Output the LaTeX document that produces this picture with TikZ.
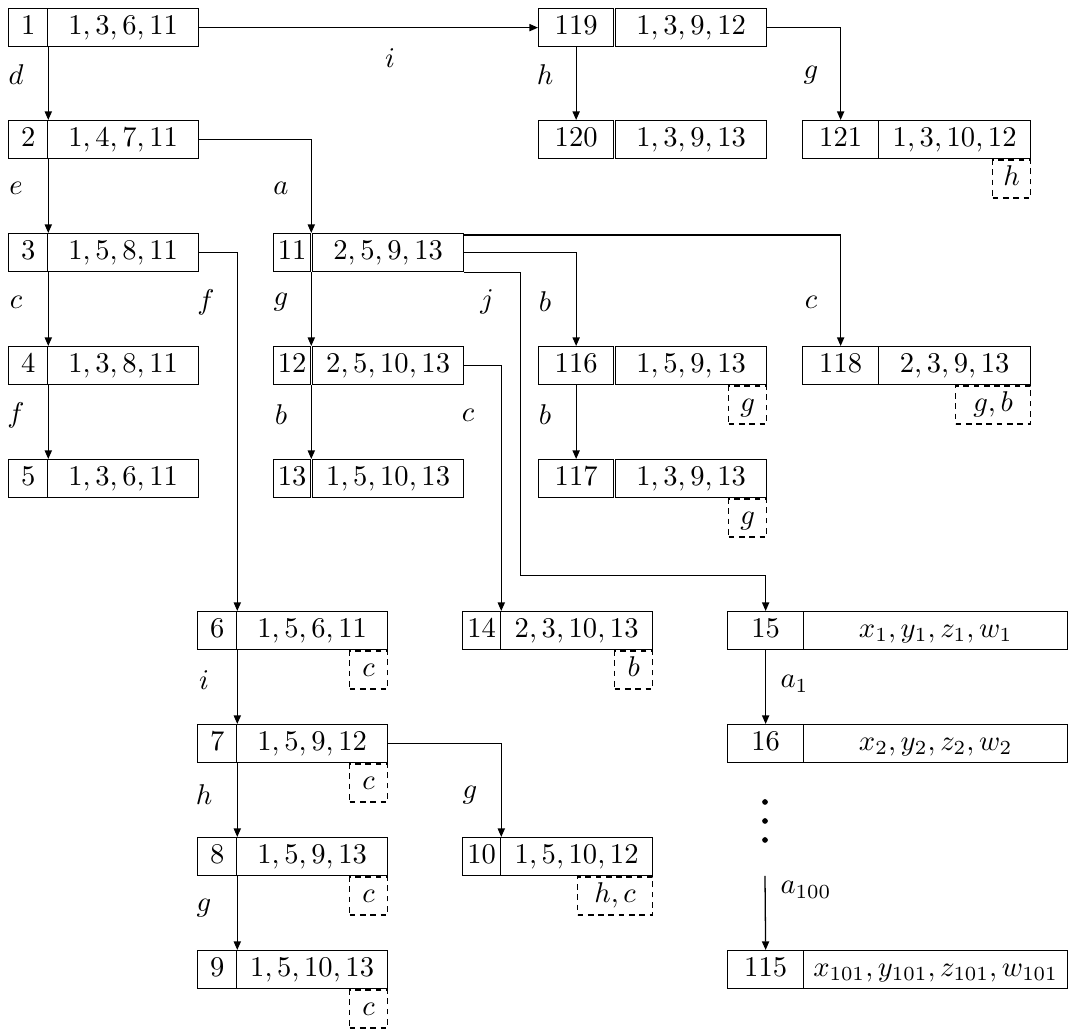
\documentclass[tikz,border=0pt]{standalone}
\usepackage{tikz}
\usetikzlibrary{arrows.meta, calc}

\begin{document}
\begin{tikzpicture}[
  x=0.35pt, y=-0.35pt,
  font=\normalsize, line width=0.45pt,
  cellbox/.style={rectangle, draw, inner sep=0pt, anchor=north west, minimum height=13.3pt, text height=6.5pt, text depth=1.9pt},
  tagbox/.style={rectangle, draw, dash pattern=on 2pt off 1.6pt, inner sep=0pt, anchor=north east, minimum height=13.3pt, minimum width=13.3pt, text height=6.5pt, text depth=1.9pt},
  link/.style={-{Triangle[length=3pt, width=2.5pt]}},
  lbl/.style={inner sep=0pt}
]
  \useasboundingbox (0,0) rectangle (1071,1034);
  % state boxes: id / left / top / divider / second cell / right / set
  \foreach \id/\xa/\ya/\xb/\xc/\xd/\elems in {
      1/8/8/47/47/198/{1,3,6,11},
      2/8/120/47/47/198/{1,4,7,11},
      3/8/233/47/47/198/{1,5,8,11},
      4/8/346/47/47/198/{1,3,8,11},
      5/8/459/47/47/198/{1,3,6,11},
      119/538/8/613/615/766/{1,3,9,12},
      120/538/120/613/615/766/{1,3,9,13},
      121/802/120/878/878/1030/{1,3,10,12},
      11/273/233/310/312/463/{2,5,9,13},
      12/273/346/310/312/463/{2,5,10,13},
      13/273/459/310/312/463/{1,5,10,13},
      116/538/346/613/615/766/{1,5,9,13},
      117/538/459/613/615/766/{1,3,9,13},
      118/802/346/878/878/1030/{2,3,9,13},
      6/197/611/236/236/387/{1,5,6,11},
      7/197/724/236/236/387/{1,5,9,12},
      8/197/837/236/236/387/{1,5,9,13},
      9/197/950/236/236/387/{1,5,10,13},
      14/462/611/500/500/652/{2,3,10,13},
      10/462/837/500/500/652/{1,5,10,12},
      15/727/611/803/803/1067/{x_1,y_1,z_1,w_1},
      16/727/724/803/803/1067/{x_2,y_2,z_2,w_2},
      115/727/950/803/803/1067/{x_{101},y_{101},z_{101},w_{101}}
  } {
    \pgfmathsetmacro{\wl}{(\xb-\xa)*0.35}
    \pgfmathsetmacro{\wr}{(\xd-\xc)*0.35}
    \node[cellbox, minimum width=\wl pt] (L\id) at (\xa,\ya) {$\id$};
    \node[cellbox, minimum width=\wr pt] (R\id) at (\xc,\ya) {$\elems$};
  }
  % dashed tags under the boxes
  \foreach \id/\tag in {121/h, 116/g, 117/g, 6/c, 7/c, 8/c, 9/c, 14/b}
    \node[tagbox] (D\id) at (R\id.south east) {$\tag$};
  \node[tagbox, minimum width=26.3pt] (D118) at (R118.south east) {$g,b$};
  \node[tagbox, minimum width=26.3pt] (D10) at (R10.south east) {$h,c$};
  % straight down
  \draw[link] (L1.south east) -- (L2.north east);
  \draw[link] (L2.south east) -- (L3.north east);
  \draw[link] (L3.south east) -- (L4.north east);
  \draw[link] (L4.south east) -- (L5.north east);
  \draw[link] (L11.south east) -- (L12.north east);
  \draw[link] (L12.south east) -- (L13.north east);
  \draw[link] (L119.south) -- (L120.north);
  \draw[link] (L116.south) -- (L117.north);
  \draw[link] (L6.south east) -- (L7.north east);
  \draw[link] (L7.south east) -- (L8.north east);
  \draw[link] (L8.south east) -- (L9.north east);
  \draw[link] (L15.south) -- (L16.north);
  % sideways then down
  \draw[link] (R1.east) -- (L119.west);
  \draw[link] (R2.east) -| (L11.north east);
  \draw[link] (R3.east) -| (L6.north east);
  \draw[link] ($(R11.north east)+(0,2)$) -| (L118.north);
  \draw[link] (R11.east) -| (L116.north);
  \draw[link] (R11.south east) -- ++(56,0) -- ++(0,303) -| (L15.north);
  \draw[link] (R12.east) -| (L14.north east);
  \draw[link] (R7.east) -| (L10.north east);
  \draw[link] (R119.east) -| (L121.north);
  % the long chain
  \foreach \yy in {802,821,840}
    \fill (765,\yy) circle (1pt);
  \coordinate (chain) at (765,876);
  \draw[link] (chain) -- (L115.north);
  % edge labels
  \foreach \lx/\ly/\t in {16/75/d, 16/188/e, 16/302/c, 16/415/f,
      281/188/a, 206/302/f, 281/302/g, 487/302/j, 545/302/b, 811/302/c,
      281/415/b, 468/415/c, 545/415/b, 390/58/i, 545/75/h, 811/75/g,
      204/680/i, 204/795/h, 204/908/g, 470/795/g}
    \node[lbl] at (\lx,\ly) {$\t$};
  \node[lbl, anchor=west] at (780,684) {$a_1$};
  \node[lbl, anchor=west] at (780,890) {$a_{100}$};
\end{tikzpicture}
\end{document}
